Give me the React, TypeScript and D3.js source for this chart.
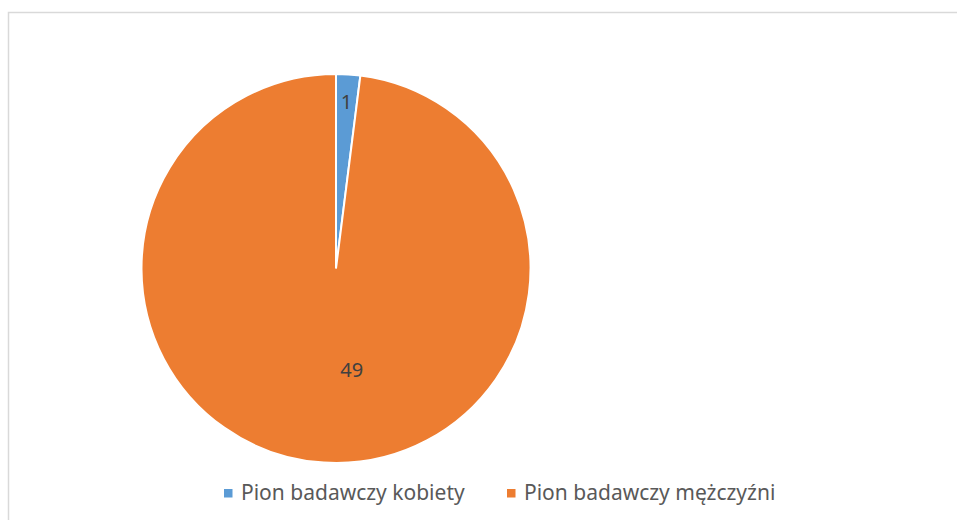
import React from "react";
import * as d3 from "d3";

const categories = ["Pion badawczy kobiety", "Pion badawczy mężczyźni"];
const values = [1, 49];
const colors = ["#5b9bd5", "#ed7d31"];

export default function App() {
  const W = 957, H = 520;
  const cx = 336, cy = 268.5, r = 194.5;
  const font = "'Noto Sans', 'Open Sans', sans-serif";
  const pie = d3.pie<number>().sort(null).value((d) => d)(values);
  const arc = d3.arc<d3.PieArcDatum<number>>().innerRadius(0).outerRadius(r);
  const labelArc = d3.arc<d3.PieArcDatum<number>>().innerRadius(r * 0.86).outerRadius(r * 0.86);
  const centerArc = d3.arc<d3.PieArcDatum<number>>().innerRadius(0).outerRadius(r * 1.04);
  const labelDx = [0, 22];
  return (
    <svg width={W} height={H} style={{ position: "absolute", left: 0, top: 0 }}>
      <rect x={0} y={0} width={W} height={H} fill="#fff" />
      <rect x={8.5} y={12.5} width={W + 10} height={H + 10} fill="#fff" stroke="#d9d9d9" strokeWidth={1.5} />
      <g transform={`translate(${cx},${cy})`}>
        {pie.map((p, i) => (
          <path key={i} d={arc(p) || ""} fill={colors[i]} stroke="#fff" strokeWidth={2} />
        ))}
        {pie.map((p, i) => {
          const [x, y] = i === 0 ? labelArc.centroid(p) : centerArc.centroid(p);
          return (
            <text key={i} x={x + labelDx[i]} y={y} textAnchor="middle" dominantBaseline="central"
              fontFamily={font} fontSize={20} fill="#404040">
              {values[i]}
            </text>
          );
        })}
      </g>
      <g fontFamily={font} fontSize={21} fill="#595959">
        <rect x={224} y={489} width={8.5} height={8.5} fill={colors[0]} />
        <text x={241} y={500}>{categories[0]}</text>
        <rect x={507} y={489} width={8.5} height={8.5} fill={colors[1]} />
        <text x={524} y={500}>{categories[1]}</text>
      </g>
    </svg>
  );
}
